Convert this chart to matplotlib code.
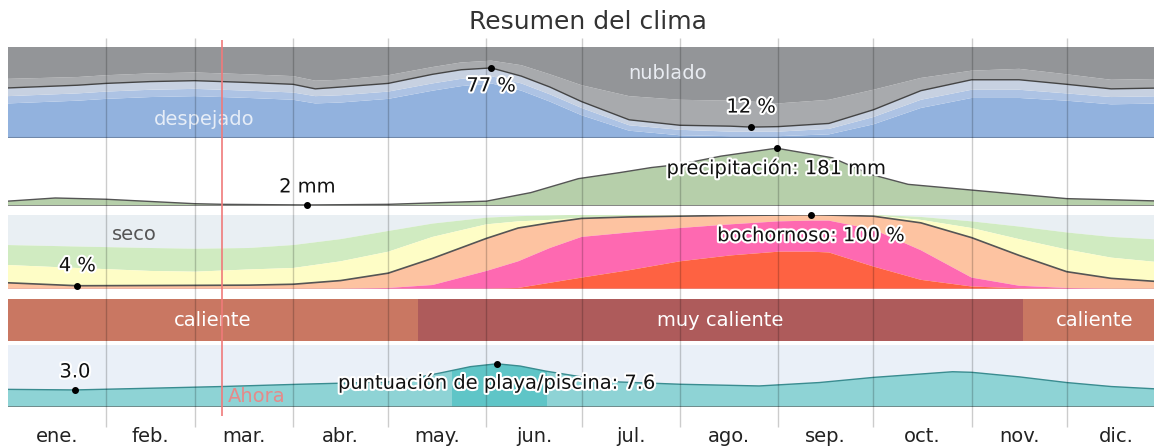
import numpy as np
import matplotlib
matplotlib.use('Agg')
import matplotlib.pyplot as plt
import matplotlib.patheffects as pe
from matplotlib.patches import Rectangle

W, H = 1154, 448
plt.rcParams['font.family'] = ['DejaVu Sans']

months = ['ene.', 'feb.', 'mar.', 'abr.', 'may.', 'jun.', 'jul.', 'ago.', 'sep.', 'oct.', 'nov.', 'dic.']
month_starts = [0, 31, 59, 90, 120, 151, 181, 212, 243, 273, 304, 334, 365]
today = 67.6

# nubes: % del tiempo (limites de cada categoria)
cloud_days = [0, 22, 31, 45, 59, 76, 90, 97, 105, 120, 134, 143, 152.5, 162, 171, 181,
              196, 212, 228, 234.5, 243, 259, 273, 288, 304, 319, 334, 348, 365]
clear_line = [55, 58, 60, 62, 63, 61, 59, 54, 56, 60, 70, 75, 77, 68, 56, 40,
              20, 14, 13, 12, 12.5, 16, 31, 52, 64, 64, 59, 54, 55]
overcast_top = [65, 67, 69, 71, 72, 70, 68, 63, 64, 69, 78, 83, 85, 80, 70, 58,
                46, 42, 41, 40, 38, 42, 53, 66, 74, 76, 70, 64, 65]
partly_bottom = [46, 49, 51, 53, 54, 52, 50, 46, 47, 51, 60, 65, 68, 60, 48, 33,
                 14, 9, 7, 7, 7, 10, 23, 42, 53, 53, 49, 45, 46]
mostly_bottom = [38, 41, 43, 45, 46, 44, 42, 38, 39, 43, 52, 57, 60, 52, 40, 25,
                 8, 3, 2, 2, 2, 4, 15, 33, 44, 44, 41, 37, 38]

# precipitacion (mm)
rain_days = [0, 15, 31, 59, 68, 94.5, 120, 151, 165, 180, 193, 203, 212, 225, 242.5,
             260, 272, 284, 304, 334, 365]
rain_mm = [14, 24, 20, 6, 4, 2, 4, 14, 41, 85, 104, 120, 130, 156, 181,
           151, 99, 67, 49, 22, 14]

# humedad: % del tiempo
hum_days = [0, 22, 45, 59, 76, 90, 105, 120, 134, 151, 161, 171, 181, 196, 212, 228,
            243, 253.4, 259, 273, 288, 304, 319, 334, 348, 365]
muggy = [8, 4, 4.3, 4.5, 4.8, 6, 11, 21, 41, 68, 82, 89, 95, 97, 98, 99,
         99.5, 100, 99.5, 98, 89, 69, 45, 23, 14, 9]
oppressive = [0, 0, 0, 0, 0, 0, 0, 1, 5, 24, 37, 55, 70, 76, 82, 87,
              91, 92, 92, 80, 52, 15, 4, 1, 0, 0]
miserable = [0, 0, 0, 0, 0, 0, 0, 0, 0, 0, 1, 8, 15, 25, 37, 45,
             50, 50, 49, 30, 12, 3, 0.5, 0, 0, 0]
humid = [32, 28, 24, 23, 26, 28, 37, 50, 70, 87, 91, 93, 96, 98, 99, 99.5,
         100, 100, 100, 99, 93, 82, 67, 53, 42, 35]
comfortable = [59, 57, 55, 54, 55, 59, 67, 78, 88, 96, 98, 99, 100, 100, 100, 100,
               100, 100, 100, 100, 97, 91, 84, 76, 70, 66]

# temperatura
temp_bands = [(0, 129.4, 'caliente'), (129.4, 320.3, 'muy caliente'), (320.3, 365, 'caliente')]

# puntuacion de playa/piscina
beach_days = [0, 21.2, 45, 67.6, 92, 120, 128.5, 137, 146, 154.3, 161.6, 169.8, 182,
              193, 212, 237, 256, 273, 298, 304, 319, 334, 348, 365]
beach_score = [3.1, 3.0, 3.3, 3.6, 4.0, 4.4, 5.1, 6.05, 7.1, 7.6, 7.2, 6.3, 5.2,
               4.4, 4.0, 3.7, 4.3, 5.2, 6.2, 6.1, 5.3, 4.3, 3.6, 3.1]
best_period = (140, 170)

fig = plt.figure(figsize=(W / 100, H / 100), dpi=100)
X0, X1 = 7.7, 1165


def px_axes(y0, y1):
    ax = fig.add_axes([X0 / W, 1 - y1 / H, (X1 - X0) / W, (y1 - y0) / H])
    ax.set_xlim(0, 365)
    ax.axis('off')
    return ax


halo = [pe.withStroke(linewidth=3, foreground='white')]

# nubes
ax1 = px_axes(47, 138)
ax1.set_ylim(0, 100)
ax1.fill_between(cloud_days, 0, mostly_bottom, color='#92b2de', lw=0)
ax1.fill_between(cloud_days, mostly_bottom, partly_bottom, color='#adc3e4', lw=0)
ax1.fill_between(cloud_days, partly_bottom, clear_line, color='#c7d1e1', lw=0)
ax1.fill_between(cloud_days, clear_line, overcast_top, color='#a8aaad', lw=0)
ax1.fill_between(cloud_days, overcast_top, 100, color='#939598', lw=0)
ax1.plot(cloud_days, clear_line, color='#444444', lw=1)
ax1.axhline(0, color='#7088aa', lw=1.5)
ax1.text(208, 71, 'nublado', ha='center', va='center', color='#e9ecf2', fontsize=14)
ax1.text(62, 20, 'despejado', ha='center', va='center', color='#e6edf7', fontsize=14)

# precipitacion
ax2 = px_axes(139, 205.6)
ax2.set_ylim(0, 210)
ax2.fill_between(rain_days, 0, rain_mm, color='#b6cfaa', lw=0)
ax2.plot(rain_days, rain_mm, color='#555555', lw=1)
ax2.axhline(0, color='#777777', lw=1.2)

# humedad
ax3 = px_axes(214.7, 288.7)
ax3.set_ylim(0, 100)
ax3.fill_between(hum_days, comfortable, 100, color='#e9eff3', lw=0)
ax3.fill_between(hum_days, humid, comfortable, color='#d0ebc1', lw=0)
ax3.fill_between(hum_days, muggy, humid, color='#fefdc6', lw=0)
ax3.fill_between(hum_days, oppressive, muggy, color='#fdc3a1', lw=0)
ax3.fill_between(hum_days, miserable, oppressive, color='#fe69b1', lw=0)
ax3.fill_between(hum_days, 0, miserable, color='#fe6242', lw=0)
ax3.plot(hum_days, muggy, color='#555555', lw=1.2)
ax3.axhline(0, color='#b03a4a', lw=1)
ax3.text(33, 73, 'seco', ha='left', va='center', color='#555555', fontsize=14)

# temperatura
ax4 = px_axes(299, 341)
ax4.set_ylim(0, 1)
for start, end, name in temp_bands:
    col = '#ae5b5b' if name == 'muy caliente' else '#c97762'
    ax4.axvspan(start, end, color=col, lw=0)
    ax4.text((start + end) / 2, 0.5, name, ha='center', va='center', color='white', fontsize=14)

# playa
ax5 = px_axes(345, 407)
ax5.set_ylim(0, 10.9)
ax5.axhspan(0, 10.9, color='#eaf0f8', lw=0)
ax5.fill_between(beach_days, 0, beach_score, color='#8ed3d5', lw=0)
best = ax5.fill_between(beach_days, 0, beach_score, color='#5fc5c7', lw=0)
clip = Rectangle((best_period[0], 0), best_period[1] - best_period[0], 11, transform=ax5.transData)
best.set_clip_path(clip)
ax5.plot(beach_days, beach_score, color='#3a8c90', lw=1)
ax5.axhline(0, color='#6a8080', lw=1.2)

# capa superior: lineas de meses, etiquetas
ax_o = fig.add_axes([X0 / W, 0, (X1 - X0) / W, 1])
ax_o.set_xlim(0, 365)
ax_o.set_ylim(H, 0)
ax_o.axis('off')
ax_o.vlines(month_starts[1:-1], 38, 427, color='black', alpha=0.2, lw=1)
ax_o.vlines(today, 40, 416, color='#f07a7a', lw=1.2)
ax_o.text(today + 1.8, 397, 'Ahora', ha='left', va='center', color='#e58a8a', fontsize=14)
for i, m in enumerate(months):
    ax_o.text((month_starts[i] + month_starts[i + 1]) / 2, 437, m, ha='center', va='center',
              color='#222222', fontsize=14)


def mark(ax, days, vals, idx, label, dy):
    ax.plot(days[idx], vals[idx], 'o', color='black', ms=4, clip_on=False, zorder=6)
    ax_o.annotate(label, xy=(days[idx], vals[idx]), xycoords=ax.transData,
                  xytext=(0, dy), textcoords='offset pixels', ha='center', va='center',
                  fontsize=14, color='#111111', path_effects=halo)


i = int(np.argmax(clear_line))
mark(ax1, cloud_days, clear_line, i, f'{clear_line[i]:.0f} %', -18)
i = int(np.argmin(clear_line))
mark(ax1, cloud_days, clear_line, i, f'{clear_line[i]:.0f} %', 20)
i = int(np.argmin(rain_mm))
mark(ax2, rain_days, rain_mm, i, f'{rain_mm[i]:.0f} mm', 18)
i = int(np.argmax(rain_mm))
mark(ax2, rain_days, rain_mm, i, f'precipitación: {rain_mm[i]:.0f} mm', -20)
i = int(np.argmin(muggy))
mark(ax3, hum_days, muggy, i, f'{muggy[i]:.0f} %', 20)
i = int(np.argmax(muggy))
mark(ax3, hum_days, muggy, i, f'bochornoso: {muggy[i]:.0f} %', -21)
i = int(np.argmin(beach_score))
mark(ax5, beach_days, beach_score, i, f'{beach_score[i]:.1f}', 18)
i = int(np.argmax(beach_score))
mark(ax5, beach_days, beach_score, i, f'puntuación de playa/piscina: {beach_score[i]:.1f}', -19)

fig.text(588 / W, 1 - 22 / H, 'Resumen del clima', ha='center', va='center',
         fontsize=18, color='#333333')

fig.savefig('out.png', dpi=100)
